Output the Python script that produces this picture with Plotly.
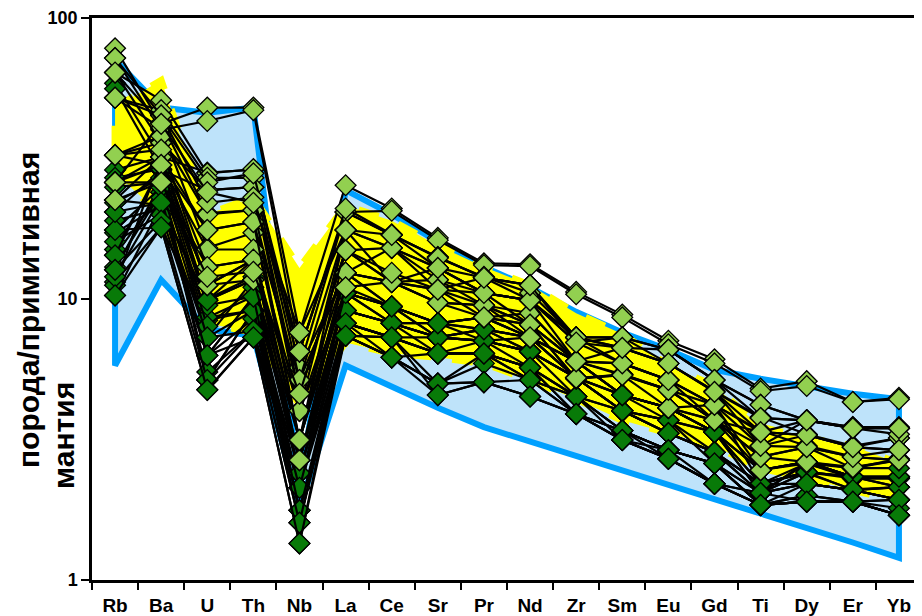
import plotly.graph_objects as go

elements = ["Rb", "Ba", "U", "Th", "Nb", "La", "Ce", "Sr", "Pr", "Nd",
            "Zr", "Sm", "Eu", "Gd", "Ti", "Dy", "Er", "Yb"]

# Blue field (upper and lower boundary)
blue_upper = [71, 48, 46, 48, 2.1, 24.4, 20, 16, 13, 11, 9.0, 7.6, 6.6, 5.6, 5.2, 4.9, 4.6, 4.4]
blue_lower = [5.8, 11.7, 7.8, 7.4, 1.8, 5.8, 4.9, 4.1, 3.5, 3.1, 2.75, 2.45, 2.18, 1.94, 1.72, 1.53, 1.36, 1.2]

# Yellow field (upper and lower boundary)
yellow_upper = [48, 60, 20, 23, 12.9, 21.5, 19, 15.5, 13, 11.2, 8.9, 7.5, 5.8, 4.9, 3.5, 3.2, 3.0, 2.6]
yellow_lower = [28, 20, 8.2, 7.6, 4.2, 7.0, 6.4, 6.2, 5.9, 5.15, 4.4, 3.7, 3.33, 3.0, 2.5, 2.3, 2.1, 1.9]

# Samples, light-green group
light_samples = [
    [78, 42, 48, 48, 7.6, 25.4, 21, 16.5, 13.4, 13.3, 10.6, 8.8, 7.1, 6.1, 4.8, 5.1, 4.3, 4.45],
    [72, 40, 43, 47, 6.5, 20.4, 20.6, 16.2, 13.2, 13.1, 10.4, 8.6, 6.9, 5.9, 4.7, 4.9, 4.3, 4.4],
    [64, 51, 28, 29, 5.7, 20.4, 16.9, 14.1, 11.9, 11.2, 7.3, 7.3, 6.6, 5.15, 4.2, 3.7, 3.5, 3.5],
    [52, 47, 27, 27, 5.15, 17.6, 15.2, 12.9, 10.5, 9.9, 7.3, 6.7, 5.9, 4.7, 3.8, 3.3, 3.0, 3.2],
    [32.5, 36, 24.4, 25, 4.6, 14.9, 11.5, 11.7, 9.5, 8.1, 6.0, 5.9, 5.15, 4.2, 3.4, 3.0, 2.75, 2.9],
    [26, 42.5, 20.2, 20.7, 3.15, 12.4, 15.2, 10.8, 11.9, 9.9, 7.0, 7.3, 5.9, 4.7, 3.0, 3.7, 3.5, 3.47],
    [52, 40.5, 15.2, 17.2, 4.0, 17.6, 11.5, 9.7, 9.5, 8.9, 6.0, 5.4, 4.75, 3.7, 2.75, 2.97, 2.5, 2.67],
    [26, 26, 13.0, 13.8, 2.67, 12.4, 11.5, 10.8, 8.6, 8.1, 5.2, 5.4, 4.75, 4.2, 2.46, 2.6, 2.5, 2.7],
    [64, 36, 11.2, 11.7, 3.15, 14.9, 11.5, 12.9, 10.5, 9.9, 7.3, 5.9, 5.15, 3.7, 3.36, 3.28, 2.97, 2.9],
    [72, 45, 26, 28, 6.5, 20.4, 16.9, 14.1, 11.9, 11.2, 7.3, 6.7, 6.6, 5.15, 4.2, 3.7, 3.47, 3.47],
    [32.5, 38, 20, 20.7, 4.6, 14.9, 15.2, 12.9, 10.5, 9.9, 7.0, 5.9, 5.15, 4.2, 3.36, 3.28, 2.97, 3.2],
    [26, 32, 17.6, 18.8, 5.15, 12.4, 11.5, 9.7, 9.5, 7.3, 6.0, 5.36, 4.75, 3.7, 3.0, 2.97, 2.74, 2.67],
    [26, 30, 15, 15, 3.15, 17.6, 15.2, 11.7, 10.5, 8.1, 6.0, 6.7, 5.9, 4.67, 3.77, 3.7, 3.47, 3.47],
    [32.5, 34, 13, 13.8, 4.0, 12.4, 11.5, 10.8, 9.5, 8.1, 5.2, 5.36, 4.1, 3.7, 2.74, 2.63, 2.52, 2.67],
    [52, 45, 22, 23, 6.5, 21, 17, 14, 12, 10.5, 7.3, 7.3, 6.6, 5.15, 3.77, 3.7, 3.47, 3.3],
    [32.5, 30, 17.6, 18.8, 3.15, 11, 11.5, 9.7, 8.6, 7.3, 5.24, 5.36, 4.75, 3.7, 2.74, 2.97, 2.74, 2.67],
    [22.5, 26, 12, 12.5, 4.6, 14.9, 12.4, 10.8, 10.5, 9.9, 6.0, 5.9, 5.15, 4.2, 3.0, 3.28, 2.97, 2.9],
    [64, 42, 24, 22, 7.6, 17.6, 16.9, 12.9, 11.9, 11.2, 7.0, 6.7, 5.9, 4.67, 3.36, 3.7, 3.47, 3.47],
]

# Samples, dark-green group
dark_samples = [
    [58.6, 32, 28.2, 28.8, 5.7, 12.4, 9.4, 8.2, 8.6, 8.9, 6.0, 4.55, 4.1, 4.2, 2.2, 2.6, 2.3, 2.3],
    [56, 28.8, 24.4, 25, 4.0, 10.5, 9.4, 7.3, 7.8, 7.3, 5.24, 4.55, 4.1, 3.36, 2.04, 2.42, 2.3, 2.3],
    [28.8, 32, 11.2, 13.8, 2.67, 10.5, 8.2, 8.2, 7.1, 6.5, 5.24, 4.0, 3.7, 3.36, 2.2, 2.4, 2.1, 2.14],
    [22.5, 21.6, 9.9, 11.7, 2.4, 9.1, 8.2, 6.4, 6.4, 5.7, 3.9, 3.4, 2.9, 2.6, 1.85, 1.9, 1.9, 1.93],
    [20.4, 28.8, 8.6, 10.2, 2.13, 8.2, 7.3, 7.3, 7.1, 7.3, 6.0, 4.55, 3.7, 2.6, 2.04, 2.6, 2.33, 2.33],
    [17.6, 18, 8.4, 9.1, 1.77, 7.4, 6.2, 5.0, 5.06, 5.15, 3.9, 3.15, 2.7, 2.2, 1.85, 1.9, 1.9, 1.7],
    [17.2, 21.6, 7.3, 7.7, 1.6, 7.4, 7.3, 4.55, 5.06, 4.5, 3.9, 3.15, 2.9, 2.2, 1.85, 1.9, 1.9, 1.7],
    [14.3, 24, 6.3, 7.3, 1.35, 8.2, 6.2, 6.4, 6.4, 5.15, 4.5, 3.4, 2.9, 2.6, 2.04, 2.42, 2.09, 1.93],
    [12.7, 26, 5.15, 9.1, 2.4, 9.1, 8.2, 7.3, 7.8, 6.5, 5.24, 4.0, 3.7, 3.36, 2.2, 2.42, 2.33, 2.33],
    [11.5, 18, 4.75, 7.3, 2.13, 10.5, 9.4, 8.2, 8.6, 7.3, 5.24, 4.55, 4.1, 3.36, 2.04, 2.63, 2.33, 2.14],
    [10.3, 21.6, 6.3, 10.2, 1.77, 7.4, 7.3, 6.4, 7.1, 5.7, 4.5, 4.0, 3.33, 2.85, 2.2, 2.2, 2.09, 1.93],
    [11.2, 32, 9.9, 13.8, 3.15, 12.4, 9.4, 8.2, 8.6, 7.3, 6.0, 4.55, 4.1, 3.36, 2.46, 2.63, 2.33, 2.33],
    [15, 28.8, 7.3, 11.7, 2.67, 9.1, 8.2, 7.3, 7.1, 6.5, 5.24, 4.0, 3.33, 2.85, 2.04, 2.2, 2.09, 2.14],
    [25, 26, 8.6, 9.1, 2.13, 8.2, 7.3, 6.4, 6.4, 5.7, 4.5, 3.4, 2.9, 2.6, 1.85, 2.0, 1.9, 1.93],
    [19, 21, 10, 12, 2.4, 10.5, 8.2, 8.2, 7.8, 6.5, 5.24, 4.0, 3.7, 2.85, 2.2, 2.42, 2.33, 2.3],
    [13, 24, 5.15, 9.1, 1.6, 8.2, 7.3, 5.0, 5.9, 5.15, 3.9, 3.4, 2.7, 2.2, 1.85, 1.9, 1.9, 1.7],
    [27, 29, 9.5, 10.2, 2.67, 10.5, 9.4, 7.3, 7.8, 7.3, 5.24, 4.55, 4.1, 3.36, 2.46, 2.63, 2.33, 2.33],
    [16, 20, 6.3, 8.5, 1.77, 8.2, 7.3, 6.4, 6.4, 5.7, 4.5, 3.4, 2.9, 2.6, 1.85, 2.2, 2.09, 1.93],
    [12, 23, 5.5, 7.7, 2.13, 7.4, 6.2, 5.0, 5.06, 4.5, 3.9, 3.15, 2.7, 2.2, 2.04, 1.9, 1.9, 1.7],
    [22, 27, 8, 11, 2.4, 9.1, 8.2, 7.3, 7.1, 6.5, 5.24, 4.0, 3.33, 2.85, 2.2, 2.42, 2.33, 2.14],
    [17.6, 25, 7.3, 9.1, 2.13, 9.1, 8.2, 7.3, 7.1, 6.5, 4.5, 4.0, 3.33, 2.85, 2.04, 2.2, 2.09, 2.14],
    [14.3, 30, 9.9, 11.7, 2.67, 10.5, 9.4, 8.2, 7.8, 7.3, 6.0, 4.55, 4.1, 3.36, 2.46, 2.63, 2.33, 2.33],
    [20.4, 22, 6.3, 10.2, 1.77, 7.4, 6.2, 5.0, 6.4, 5.7, 3.9, 3.4, 2.9, 2.6, 1.85, 2.0, 1.9, 1.8],
    [12.7, 19, 5.15, 7.7, 1.6, 8.2, 7.3, 6.4, 6.4, 5.15, 4.5, 3.15, 2.7, 2.2, 2.04, 2.2, 2.09, 1.93],
    [22.5, 32, 11.2, 13.8, 3.15, 11, 9.4, 8.2, 8.6, 8.1, 6.0, 4.55, 4.1, 3.7, 2.46, 2.63, 2.5, 2.5],
    [10.3, 18, 4.75, 7.3, 1.35, 7.4, 6.2, 4.55, 5.06, 4.5, 3.9, 3.15, 2.7, 2.2, 1.85, 1.9, 1.9, 1.7],
]

y_ticks = [1, 10, 100]
y_title_1 = "порода/примитивная"
y_title_2 = "мантия"

LIGHT = "#92D050"
DARK = "#087A08"
BLUE_LINE = "#00A0FF"
BLUE_FILL = "#BEE3FA"
YELLOW = "#FFFF00"

fig = go.Figure()

def polygon(upper, lower):
    xs = elements + elements[::-1] + [elements[0]]
    ys = upper + lower[::-1] + [upper[0]]
    return xs, ys

bx, by = polygon(blue_upper, blue_lower)
fig.add_trace(go.Scatter(x=bx, y=by, mode="lines", fill="toself",
                         fillcolor=BLUE_FILL,
                         line=dict(color=BLUE_LINE, width=6),
                         hoverinfo="skip", showlegend=False))

yx, yy = polygon(yellow_upper, yellow_lower)
fig.add_trace(go.Scatter(x=yx, y=yy, mode="lines", fill="toself",
                         fillcolor=YELLOW,
                         line=dict(color=YELLOW, width=7, dash="dash"),
                         hoverinfo="skip", showlegend=False))

for s in dark_samples:
    fig.add_trace(go.Scatter(x=elements, y=s, mode="lines+markers",
                             line=dict(color="black", width=2.2),
                             marker=dict(symbol="diamond", size=16, color=DARK,
                                         line=dict(color="black", width=1.3)),
                             showlegend=False))
for s in light_samples:
    fig.add_trace(go.Scatter(x=elements, y=s, mode="lines+markers",
                             line=dict(color="black", width=2.2),
                             marker=dict(symbol="diamond", size=16, color=LIGHT,
                                         line=dict(color="black", width=1.3)),
                             showlegend=False))

# The page body has an 8px default margin; size the figure so the plot area
# lands at the same page position as in the reference.
OFF = 8
L, R, T, B = 84, 0, 10, 36
W, H = 914, 608
pw, ph = W - L - R, H - T - B

def px_to_paper_x(px):
    return (px - OFF - L) / pw

def px_to_paper_y(py):
    return (OFF + H - B - py) / ph

xfont = dict(family="Liberation Sans, Arial, sans-serif", size=19, color="black", weight="bold")
yfont = dict(family="Liberation Sans, Arial, sans-serif", size=18, color="black", weight="bold")
title_font = dict(family="Liberation Sans, Arial, sans-serif", size=30, color="black", weight="bold")

fig.update_layout(
    width=W, height=H,
    margin=dict(l=L, r=R, t=T, b=B, autoexpand=False),
    paper_bgcolor="white", plot_bgcolor="white",
    showlegend=False,
    xaxis=dict(type="category", categoryorder="array", categoryarray=elements,
               range=[-0.5, 17.5], showline=True, linecolor="black", linewidth=2.5,
               mirror=True, ticks="outside", tickson="boundaries", ticklen=7,
               tickwidth=2, tickcolor="black", showgrid=False, zeroline=False,
               tickfont=xfont, ticklabelstandoff=6, automargin=False),
    yaxis=dict(type="log", range=[0, 2], tickvals=y_ticks,
               ticktext=[str(v) for v in y_ticks],
               showline=True, linecolor="black", linewidth=2.5,
               ticks="outside", ticklen=8, tickwidth=2, tickcolor="black",
               showgrid=False, zeroline=False, tickfont=yfont, automargin=False),
    annotations=[
        dict(text=y_title_1, textangle=-90, showarrow=False,
             xref="paper", yref="paper",
             x=px_to_paper_x(28), y=px_to_paper_y(310),
             xanchor="center", yanchor="middle", font=title_font),
        dict(text=y_title_2, textangle=-90, showarrow=False,
             xref="paper", yref="paper",
             x=px_to_paper_x(64), y=px_to_paper_y(436),
             xanchor="center", yanchor="middle", font=title_font),
    ],
)

fig.write_html("out.html")
